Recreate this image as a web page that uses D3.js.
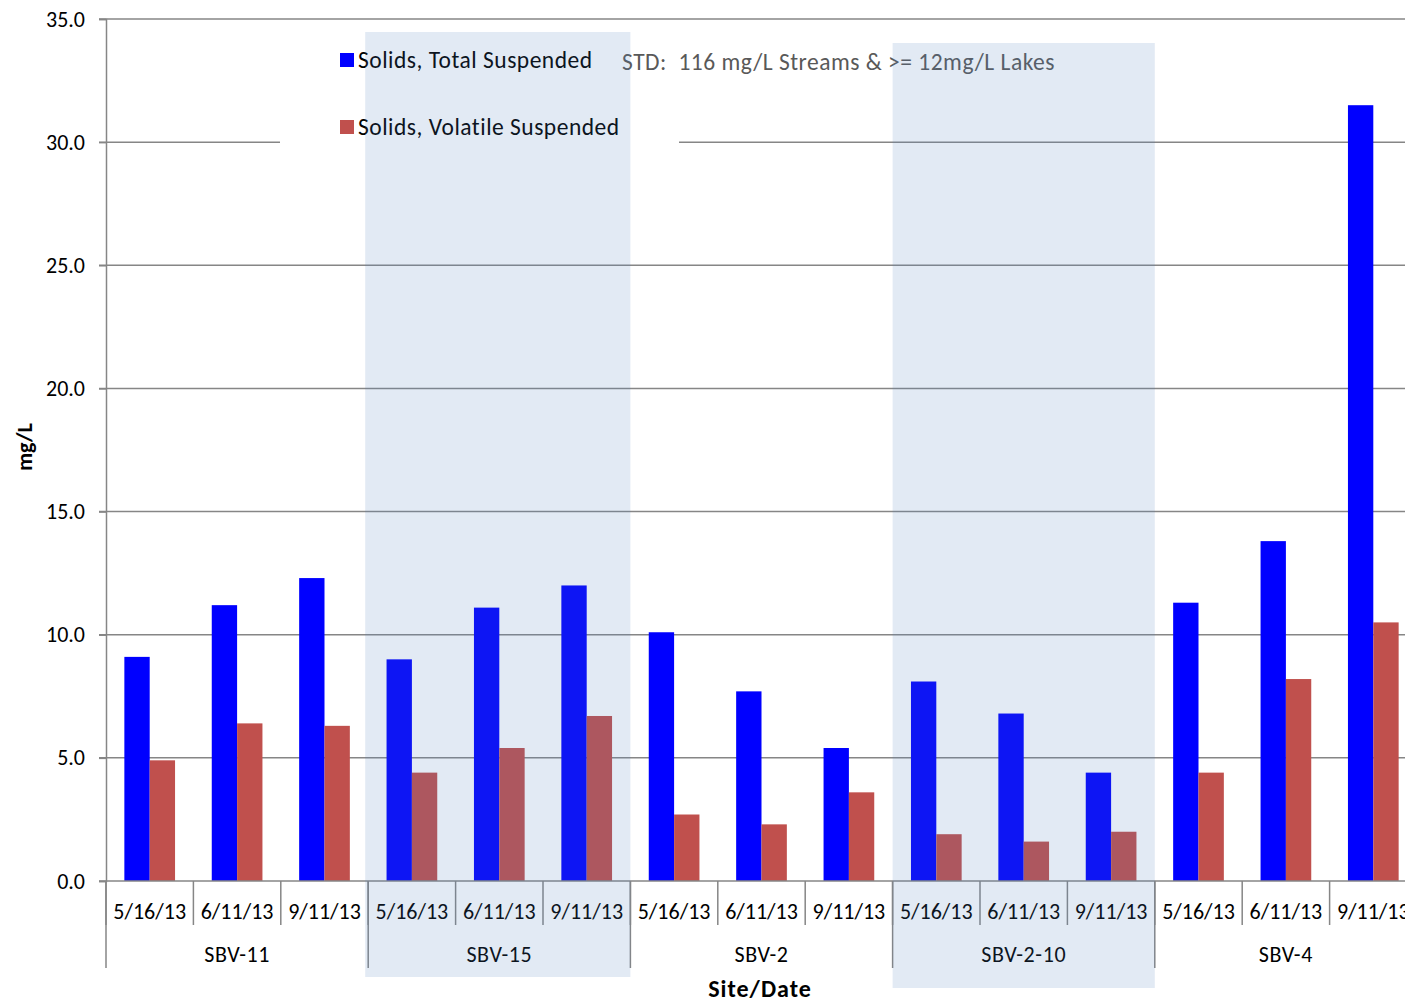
<!DOCTYPE html>
<html>
<head>
<meta charset="utf-8">
<script src="https://cdn.jsdelivr.net/npm/d3@7"></script>
<style>
  body { margin: 0; background: #fff; overflow: hidden; }
  svg { display: block; }
  text { font-family: Calibri, Carlito, Lato, "Open Sans", sans-serif; }
</style>
</head>
<body>
<div id="chart"></div>
<script>
// data
var sites = ['SBV-11', 'SBV-15', 'SBV-2', 'SBV-2-10', 'SBV-4']
var dates = ['5/16/13', '6/11/13', '9/11/13']
var tss = [9.1, 11.2, 12.3, 9.0, 11.1, 12.0, 10.1, 7.7, 5.4, 8.1, 6.8, 4.4, 11.3, 13.8, 31.5]
var vss = [4.9, 6.4, 6.3, 4.4, 5.4, 6.7, 2.7, 2.3, 3.6, 1.9, 1.6, 2.0, 4.4, 8.2, 10.5]
var seriesNames = ['Solids, Total Suspended', 'Solids, Volatile Suspended']
var seriesColors = ['#0000ff', '#c0504d']
var yTicks = [0, 5, 10, 15, 20, 25, 30, 35]
var shadedSites = ['SBV-15', 'SBV-2-10']
var stdNote = 'STD:  116 mg/L Streams & >= 12mg/L Lakes'

var width = 1405, height = 1002
var plotLeft = 106, plotRight = 1417, plotTop = 19, plotBottom = 881

var svg = d3.select('#chart').append('svg')
    .attr('width', width)
    .attr('height', height)

// flatten categories
var cats = []
sites.forEach(function(s) {
    dates.forEach(function(d) { cats.push(s + '|' + d) })
})

var x = d3.scaleBand().domain(cats).range([plotLeft, plotRight])
var xSite = d3.scaleBand().domain(sites).range([plotLeft, plotRight])
var y = d3.scaleLinear().domain([0, 35]).range([plotBottom, plotTop])
var barW = x.bandwidth() * 0.29

var gridColor = '#868686'

// gridlines
svg.append('g').selectAll('line').data(yTicks.slice(1)).join('line')
    .attr('x1', plotLeft - 7).attr('x2', width)
    .attr('y1', function(d) { return y(d) }).attr('y2', function(d) { return y(d) })
    .attr('stroke', gridColor).attr('stroke-width', 1.5)

// y axis
var yAxis = svg.append('g')
    .attr('transform', 'translate(' + plotLeft + ',0)')
    .call(d3.axisLeft(y).tickValues(yTicks).tickFormat(d3.format('.1f')).tickSize(7).tickPadding(14))
yAxis.select('.domain').attr('stroke', gridColor).attr('stroke-width', 1.5)
yAxis.selectAll('.tick line').attr('stroke', gridColor).attr('stroke-width', 1.5)
yAxis.selectAll('.tick text')
    .style('font-size', '22px').attr('fill', '#000')

// bars
var bars = svg.append('g')
bars.selectAll('rect.tss').data(tss).join('rect')
    .attr('class', 'tss')
    .attr('x', function(d, i) { return x(cats[i]) + x.bandwidth() / 2 - barW })
    .attr('y', function(d) { return y(d) })
    .attr('width', barW)
    .attr('height', function(d) { return y(0) - y(d) })
    .attr('fill', seriesColors[0])
bars.selectAll('rect.vss').data(vss).join('rect')
    .attr('class', 'vss')
    .attr('x', function(d, i) { return x(cats[i]) + x.bandwidth() / 2 })
    .attr('y', function(d) { return y(d) })
    .attr('width', barW)
    .attr('height', function(d) { return y(0) - y(d) })
    .attr('fill', seriesColors[1])

// x axis line
svg.append('line')
    .attr('x1', plotLeft - 7).attr('x2', width)
    .attr('y1', plotBottom).attr('y2', plotBottom)
    .attr('stroke', gridColor).attr('stroke-width', 1.5)

// date separators and labels
var xg = svg.append('g')
xg.selectAll('line.date').data(cats).join('line')
    .attr('class', 'date')
    .attr('x1', function(d) { return x(d) }).attr('x2', function(d) { return x(d) })
    .attr('y1', plotBottom).attr('y2', plotBottom + 44)
    .attr('stroke', gridColor).attr('stroke-width', 1.5)
xg.selectAll('text.date').data(cats).join('text')
    .attr('class', 'date')
    .attr('x', function(d) { return x(d) + x.bandwidth() / 2 })
    .attr('y', plotBottom + 38)
    .attr('text-anchor', 'middle')
    .style('font-size', '22px')
    .text(function(d) { return d.split('|')[1] })

// site separators and labels
xg.selectAll('line.site').data(sites.concat(['end'])).join('line')
    .attr('class', 'site')
    .attr('x1', function(d, i) { return plotLeft + i * xSite.bandwidth() })
    .attr('x2', function(d, i) { return plotLeft + i * xSite.bandwidth() })
    .attr('y1', plotBottom).attr('y2', plotBottom + 87)
    .attr('stroke', gridColor).attr('stroke-width', 1.5)
xg.selectAll('text.site').data(sites).join('text')
    .attr('class', 'site')
    .attr('x', function(d) { return xSite(d) + xSite.bandwidth() / 2 })
    .attr('y', plotBottom + 81)
    .attr('text-anchor', 'middle')
    .style('font-size', '22px').style('letter-spacing', '0.6px')
    .text(function(d) { return d })

// axis titles
svg.append('text')
    .attr('transform', 'translate(32,447) rotate(-90)')
    .attr('text-anchor', 'middle')
    .style('font-size', '22px').style('font-weight', 'bold')
    .text('mg/L')
svg.append('text')
    .attr('x', 760).attr('y', 997)
    .attr('text-anchor', 'middle')
    .style('font-size', '24px').style('font-weight', 'bold')
    .style('letter-spacing', '1px')
    .text('Site/Date')

// legend box (white, covers gridline)
var legend = svg.append('g')
legend.append('rect')
    .attr('x', 280).attr('y', 28).attr('width', 399).attr('height', 130)
    .attr('fill', '#fff')
seriesNames.forEach(function(name, i) {
    legend.append('rect')
        .attr('x', 340).attr('y', 53 + i * 67).attr('width', 14).attr('height', 14)
        .attr('fill', seriesColors[i])
    legend.append('text')
        .attr('x', 358).attr('y', 68 + i * 67)
        .style('font-size', '23.5px')
        .style('letter-spacing', '0.5px')
        .text(name)
})

svg.append('text')
    .attr('x', 622).attr('y', 70)
    .attr('xml:space', 'preserve')
    .style('white-space', 'pre')
    .style('font-size', '23.5px').style('letter-spacing', '0.5px')
    .attr('fill', '#595959')
    .text(stdNote)

// shaded site bands drawn on top (hand placed boxes: left/right offsets, top, bottom)
var bandBox = { 'SBV-15': [-3, 0, 32, 977], 'SBV-2-10': [0, 0, 43, 988] }
svg.append('g').selectAll('rect').data(shadedSites).join('rect')
    .attr('x', function(d) { return xSite(d) + bandBox[d][0] })
    .attr('y', function(d) { return bandBox[d][2] })
    .attr('width', function(d) { return xSite.bandwidth() - bandBox[d][0] + bandBox[d][1] })
    .attr('height', function(d) { return bandBox[d][3] - bandBox[d][2] })
    .attr('fill', '#4f81bd').attr('fill-opacity', 0.165)
</script>
</body>
</html>
